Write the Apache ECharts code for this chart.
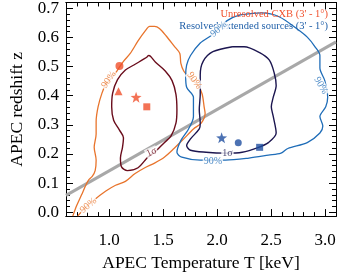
<!DOCTYPE html>
<html>
<head>
<meta charset="utf-8">
<script src="https://cdn.jsdelivr.net/npm/echarts@6/dist/echarts.min.js"></script>
<style>html,body{margin:0;padding:0;background:#fff}#c{width:346px;height:277px}</style>
</head>
<body>
<div id="c"></div>
<script>
// ---- data (APEC temperature [keV], redshift z) ----
var cxb90 = [[0.663,-0.013],[0.699,0.023],[0.744,0.060],[0.780,0.090],[0.807,0.110],[0.843,0.123],[0.870,0.143],[0.879,0.179],[0.861,0.223],[0.879,0.269],[0.879,0.312],[0.897,0.362],[0.933,0.409],[0.969,0.439],[1.032,0.465],[1.077,0.488],[1.132,0.518],[1.195,0.545],[1.267,0.588],[1.330,0.621],[1.375,0.638],[1.420,0.638],[1.465,0.631],[1.528,0.605],[1.600,0.571],[1.654,0.545],[1.663,0.512],[1.690,0.485],[1.744,0.462],[1.825,0.435],[1.861,0.405],[1.879,0.362],[1.888,0.339],[1.852,0.306],[1.780,0.286],[1.690,0.252],[1.600,0.219],[1.510,0.189],[1.420,0.169],[1.330,0.153],[1.240,0.133],[1.150,0.106],[1.059,0.093],[0.969,0.073],[0.852,0.040],[0.771,0.013],[0.708,-0.013]];
var cxb1s = [[1.348,0.532],[1.303,0.522],[1.240,0.508],[1.150,0.488],[1.077,0.455],[1.032,0.409],[1.023,0.362],[1.041,0.316],[1.095,0.282],[1.132,0.256],[1.123,0.223],[1.104,0.186],[1.114,0.156],[1.168,0.143],[1.267,0.153],[1.357,0.189],[1.420,0.206],[1.510,0.239],[1.573,0.262],[1.618,0.306],[1.627,0.352],[1.618,0.405],[1.582,0.452],[1.519,0.485],[1.429,0.515],[1.384,0.535],[1.366,0.538],[1.348,0.532]];
var ext90 = [[2.141,0.668],[2.068,0.651],[1.960,0.611],[1.843,0.581],[1.753,0.538],[1.717,0.505],[1.708,0.468],[1.717,0.429],[1.780,0.395],[1.780,0.329],[1.735,0.286],[1.663,0.246],[1.627,0.206],[1.672,0.189],[1.843,0.179],[2.077,0.179],[2.294,0.186],[2.474,0.196],[2.591,0.203],[2.654,0.219],[2.834,0.239],[2.951,0.272],[2.978,0.296],[2.951,0.329],[3.005,0.362],[3.023,0.395],[2.996,0.452],[2.951,0.495],[2.951,0.538],[2.906,0.568],[2.834,0.601],[2.744,0.628],[2.573,0.671],[2.411,0.684],[2.231,0.678],[2.141,0.668]];
var ext1s = [[2.141,0.568],[1.960,0.551],[1.870,0.518],[1.843,0.472],[1.843,0.405],[1.834,0.352],[1.843,0.306],[1.834,0.286],[1.753,0.252],[1.717,0.229],[1.753,0.213],[1.897,0.206],[2.077,0.203],[2.231,0.206],[2.384,0.223],[2.474,0.239],[2.546,0.272],[2.519,0.329],[2.501,0.362],[2.519,0.395],[2.546,0.435],[2.528,0.478],[2.483,0.522],[2.393,0.548],[2.249,0.568],[2.141,0.568]];
var grayLine = [[0.6,0.058],[3.1,0.585]];
var cxbCircle = [[1.095,0.502]];
var cxbTriangle = [[1.086,0.415]];
var cxbStar = [[1.249,0.395]];
var cxbSquare = [[1.348,0.362]];
var extStar = [[2.041,0.256]];
var extCircle = [[2.195,0.239]];
var extSquare = [[2.393,0.223]];
var contourLabelText = ['90%','90%','90%','1σ','90%','90%','90%','1σ'];
var contourLabelPos = [[0.996,0.455],[1.789,0.452],[0.807,0.023],[1.393,0.206],[2.014,0.628],[2.960,0.435],[1.960,0.176],[2.095,0.203]];
var contourLabelRot = [55,-55,40,25,40,-60,0,0];
var contourLabelCol = ['#e8742c','#e8742c','#e8742c','#6a0d1c','#1f6db8','#1f6db8','#1f6db8','#1c1650'];
var xMajorTicks = [1.0,1.5,2.0,2.5,3.0];
var yMajorTicks = [0.0,0.1,0.2,0.3,0.4,0.5,0.6,0.7];
var xMinorTicks = [0.6,0.7,0.8,0.9,1.0,1.1,1.2,1.3,1.4,1.5,1.6,1.7,1.8,1.9,2.0,2.1,2.2,2.3,2.4,2.5,2.6,2.7,2.8,2.9,3.0];
var yMinorTicks = [];
for (var i = 0; i <= 36; i++) yMinorTicks.push(+(i*0.02).toFixed(2));

var FONT = 'Liberation Serif';
var XMIN = 0.6, XMAX = 3.1, YMIN = -0.013, YMAX = 0.72;
function xax(pos, ticks, len, labels, extra) {
  var a = {type:'value', position:pos, min:XMIN, max:XMAX, gridIndex:0,
    axisLine:{show:true, onZero:false, lineStyle:{color:'#000', width:1}},
    axisTick:{show:true, inside:true, length:len, customValues:ticks, lineStyle:{color:'#000', width:1}},
    axisLabel:{show:labels}, splitLine:{show:false}};
  if (labels) a.axisLabel = {show:true, customValues:xMajorTicks, margin:16, color:'#000', fontFamily:FONT, fontSize:17, formatter:function(v){return v.toFixed(1);}};
  return Object.assign(a, extra||{});
}
function yax(pos, ticks, len, labels, extra) {
  var a = {type:'value', position:pos, min:YMIN, max:YMAX, gridIndex:0,
    axisLine:{show:true, onZero:false, lineStyle:{color:'#000', width:1}},
    axisTick:{show:true, inside:true, length:len, customValues:ticks, lineStyle:{color:'#000', width:1}},
    axisLabel:{show:labels}, splitLine:{show:false}};
  if (labels) a.axisLabel = {show:true, customValues:yMajorTicks, margin:7, color:'#000', fontFamily:FONT, fontSize:17, formatter:function(v){return v.toFixed(1);}};
  return Object.assign(a, extra||{});
}
var chart = echarts.init(document.getElementById('c'), null, {renderer:'canvas'});
function line(data, color, w) {
  return {type:'line', data:data, showSymbol:false, symbol:'none', smooth:0.3, animation:false, silent:true,
    lineStyle:{color:color, width:w}, z:3};
}
function mk(data, symbol, color, size) {
  return {type:'scatter', data:data, symbol:symbol, symbolSize:size, itemStyle:{color:color}, animation:false, silent:true, z:5};
}
var labelData = contourLabelText.map(function(t, i){
  return {value:contourLabelPos[i], name:t, label:{rotate:contourLabelRot[i], color:contourLabelCol[i]}};
});
var STAR = 'path://M0,-10L2.35,-3.24L9.51,-3.09L3.8,1.24L5.88,8.09L0,4L-5.88,8.09L-3.8,1.24L-9.51,-3.09L-2.35,-3.24Z';
chart.setOption({
  animation:false,
  grid:{left:59, right:10, top:2, bottom:54, containLabel:false},
  title:[
    {text:"Unresolved CXB (3' - 1°)", right:13, top:4, textStyle:{color:'#f0502c', fontFamily:FONT, fontSize:10.5, fontWeight:'normal'}},
    {text:"Resolved extended sources (3' - 1°)", right:13, top:16, textStyle:{color:'#1f5fa8', fontFamily:FONT, fontSize:10.5, fontWeight:'normal'}}
  ],
  xAxis:[
    xax('bottom', xMajorTicks, 7, true, {name:'APEC Temperature T [keV]', nameLocation:'middle', nameGap:36, nameTextStyle:{color:'#000', fontFamily:FONT, fontSize:17.5}}),
    xax('bottom', xMinorTicks, 4, false),
    xax('top', xMajorTicks, 7, false),
    xax('top', xMinorTicks, 4, false)
  ],
  yAxis:[
    yax('left', yMajorTicks, 7, true, {name:'APEC redshift z', nameLocation:'middle', nameGap:40, nameTextStyle:{color:'#000', fontFamily:FONT, fontSize:17.5}}),
    yax('left', yMinorTicks, 4, false),
    yax('right', yMajorTicks, 7, false),
    yax('right', yMinorTicks, 4, false)
  ],
  series:[
    {type:'line', data:grayLine, showSymbol:false, symbol:'none', silent:true, animation:false, lineStyle:{color:'#a8a8a8', width:3}, z:2},
    line(cxb90, '#e8742c', 1.3),
    line(cxb1s, '#6a0d1c', 1.4),
    line(ext90, '#1f6db8', 1.3),
    line(ext1s, '#1c1650', 1.4),
    {type:'scatter', data:labelData, symbolSize:0, silent:true, animation:false, z:6,
      label:{show:true, position:'inside', formatter:'{b}', fontFamily:FONT, fontSize:10, backgroundColor:'#fff', padding:[0,1]}},
    mk(cxbCircle, 'circle', '#f0502c', 8),
    mk(cxbTriangle, 'triangle', '#f0502c', 8),
    mk(cxbStar, STAR, '#f0502c', 11),
    mk(cxbSquare, 'rect', '#f0502c', 7),
    mk(extStar, STAR, '#1f4fa0', 11),
    mk(extCircle, 'circle', '#1f4fa0', 7),
    mk(extSquare, 'rect', '#1f4fa0', 7)
  ]
});
</script>
</body>
</html>
